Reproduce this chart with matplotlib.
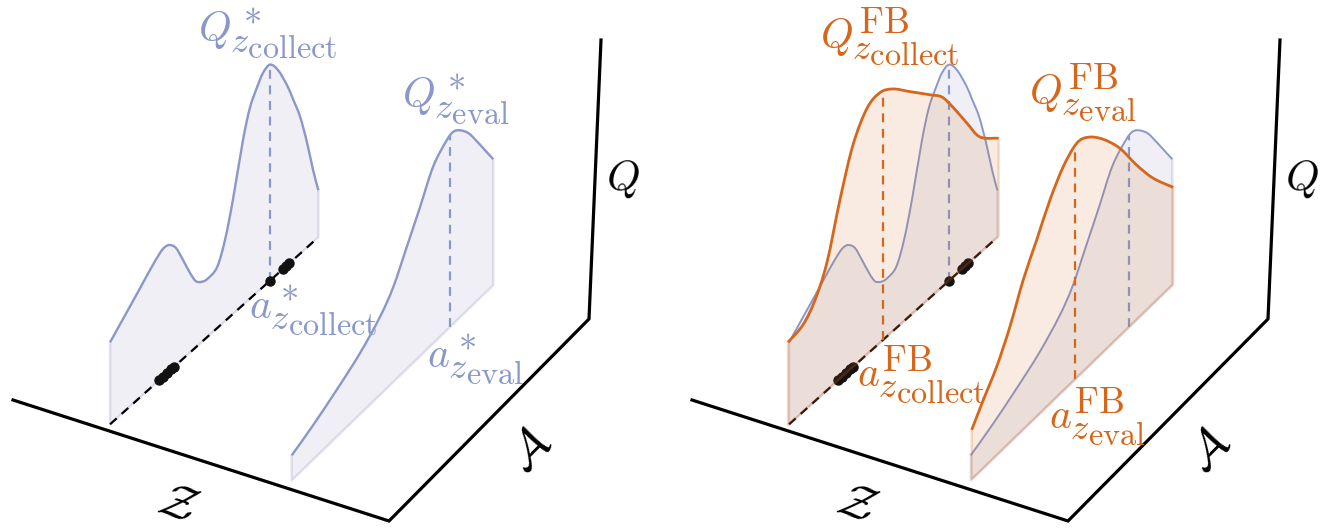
import numpy as np
import matplotlib
matplotlib.use("Agg")
import matplotlib.pyplot as plt
import matplotlib._mathtext as mathtext_internals
from matplotlib.path import Path
from matplotlib.patches import PathPatch

plt.rcParams['mathtext.fontset'] = 'cm'
# bigger script sizes, like LaTeX at \Huge
mathtext_internals.SHRINK_FACTOR = 0.88

# ---- data: Q as a function of the action a (along the A axis) ----
z_collect = 0.243
z_eval = 0.722

a_star_collect = [0.028, 0.077, 0.175, 0.225, 0.274, 0.299, 0.323, 0.353, 0.387, 0.422,
                  0.451, 0.481, 0.510, 0.555, 0.594, 0.633, 0.683, 0.717, 0.752, 0.781,
                  0.816, 0.855, 0.900, 0.929, 0.964, 0.998, 1.028, 1.054]
q_star_collect = [0.82, 0.91, 1.09, 1.185, 1.265, 1.28, 1.255, 1.17, 0.99, 0.795,
                  0.66, 0.60, 0.58, 0.61, 0.81, 1.14, 1.65, 1.91, 2.05, 2.14,
                  2.16, 2.035, 1.80, 1.61, 1.37, 1.05, 0.72, 0.47]

a_star_eval = [0.036, 0.143, 0.26, 0.375, 0.475, 0.541, 0.608, 0.674, 0.74, 0.807,
               0.84, 0.873, 0.915, 0.956, 0.997, 1.038]
q_star_eval = [0.25, 0.345, 0.47, 0.61, 0.78, 0.95, 1.22, 1.49, 1.77, 1.90,
               1.92, 1.87, 1.76, 1.60, 1.43, 1.26]

a_fb_collect = [0.023, 0.097, 0.156, 0.215, 0.279, 0.343, 0.412, 0.476, 0.540, 0.624,
                0.722, 0.781, 0.835, 0.904, 0.968, 1.060]
q_fb_collect = [0.83, 0.87, 1.01, 1.28, 1.79, 2.22, 2.46, 2.50, 2.42, 2.24,
                2.03, 1.90, 1.70, 1.415, 1.16, 0.98]

a_fb_eval = [0.041, 0.098, 0.165, 0.231, 0.297, 0.364, 0.430, 0.496, 0.563, 0.621,
             0.695, 0.778, 0.861, 0.944, 1.043]
q_fb_eval = [0.495, 0.68, 0.885, 1.157, 1.495, 1.765, 2.036, 2.24, 2.344, 2.292,
             2.127, 1.875, 1.546, 1.252, 0.969]

# argmax actions (a, Q)
star_collect_max = (0.816, 2.16)
star_eval_max = (0.823, 1.91)
fb_collect_max = (0.49, 2.50)
fb_eval_max = (0.554, 2.34)

# actions in the replay data at z_collect
a_data = [0.27, 0.29, 0.31, 0.33, 0.345, 0.816, 0.88, 0.895, 0.91]

# ---- layout ----
P00 = (13, 400)
P10 = (389, 521)
P11 = (589, 319)
P01 = (217, 224)
PX_PER_Q = 100
Q_TOP = 2.79
Q_LEAN = 12
SHIFT = 679

BLUE = '#8a97c9'
BLUE_FILL = '#8484b4'
ORANGE = '#d6661a'


def proj(z, a, q=0.0, shift=0.0):
    a = np.asarray(a, float)
    q = np.asarray(q, float)
    w00 = (1 - z) * (1 - a)
    w10 = z * (1 - a)
    w11 = z * a
    w01 = (1 - z) * a
    x = w00 * P00[0] + w10 * P10[0] + w11 * P11[0] + w01 * P01[0]
    y = w00 * P00[1] + w10 * P10[1] + w11 * P11[1] + w01 * P01[1]
    return x + shift, y - q * PX_PER_Q


def smooth(x, y):
    # smooth line through the points (catmull-rom as bezier pieces)
    pts = np.column_stack([x, y])
    n = len(pts)
    verts = [pts[0]]
    codes = [Path.MOVETO]
    for i in range(n - 1):
        p0 = pts[max(i - 1, 0)]
        p1 = pts[i]
        p2 = pts[i + 1]
        p3 = pts[min(i + 2, n - 1)]
        verts += [p1 + (p2 - p0) / 6, p2 - (p3 - p1) / 6, p2]
        codes += [Path.CURVE4] * 3
    return verts, codes


def draw_curve(ax, z, a, q, color, fill, shift, lw, alpha, zo):
    xc, yc = proj(z, a, q, shift)
    xb, yb = proj(z, a, 0, shift)
    verts, codes = smooth(xc, yc)
    fverts = verts + [(xb[-1], yb[-1]), (xb[0], yb[0]), (xc[0], yc[0])]
    fcodes = codes + [Path.LINETO, Path.LINETO, Path.CLOSEPOLY]
    ax.add_patch(PathPatch(Path(fverts, fcodes), facecolor=fill, alpha=alpha,
                           edgecolor='none', zorder=zo))
    ax.plot([xc[0], xb[0], xb[-1], xc[-1]], [yc[0], yb[0], yb[-1], yc[-1]],
            color=fill, alpha=0.22, lw=1.8, zorder=zo)
    ax.add_patch(PathPatch(Path(verts, codes), facecolor='none', edgecolor=color,
                           lw=lw, zorder=zo + 0.5))


def draw_drop(ax, z, amax, color, shift, zo):
    x0, y0 = proj(z, amax[0], 0, shift)
    x1, y1 = proj(z, amax[0], amax[1], shift)
    ax.plot([x0, x1], [y0, y1], color=color, ls='--', lw=1.6, dashes=(4, 3), zorder=zo)


def draw_axes(ax, shift):
    xa, ya = proj(1, [0, 1], 0, shift)
    x0, y0 = proj(0, 0, 0, shift)
    xs = [x0, xa[0], xa[1], xa[1] + Q_LEAN]
    ys = [y0, ya[0], ya[1], ya[1] - Q_TOP * PX_PER_Q]
    ax.plot(xs, ys, color='black', lw=2.3, solid_joinstyle='miter', zorder=1)
    ax.text((x0 + xa[0]) / 2 - 23, (y0 + ya[0]) / 2 + 43, r'$\mathcal{Z}$',
            fontsize=35, rotation=-18, ha='center', va='center')
    ax.text((xa[0] + xa[1]) / 2 + 41, (ya[0] + ya[1]) / 2 + 30, r'$\mathcal{A}$',
            fontsize=35, rotation=45, ha='center', va='center')
    ax.text(xa[1] + 34, ya[1] - 140, r'$Q$', fontsize=31, rotation=2,
            ha='center', va='center')


def draw_data(ax, shift, zo):
    xb, yb = proj(z_collect, [a_star_collect[0], a_star_collect[-1]], 0, shift)
    ax.plot(xb, yb, color='black', ls='--', lw=1.6, dashes=(4, 3), zorder=zo)
    xd, yd = proj(z_collect, a_data, 0, shift)
    ax.plot(xd, yd, 'o', color='#111111', ms=6.5, zorder=zo + 0.1)


fig = plt.figure(figsize=(13.2, 5.3), dpi=100)
ax = fig.add_axes([0, 0, 1, 1])
ax.set_xlim(0, 1320)
ax.set_ylim(530, 0)
ax.axis('off')

# left panel: optimal Q
draw_axes(ax, 0)
draw_curve(ax, z_collect, a_star_collect, q_star_collect, BLUE, BLUE_FILL, 0, 1.7, 0.13, 2)
draw_curve(ax, z_eval, a_star_eval, q_star_eval, BLUE, BLUE_FILL, 0, 1.7, 0.13, 2)
draw_drop(ax, z_collect, star_collect_max, BLUE, 0, 3)
draw_drop(ax, z_eval, star_eval_max, BLUE, 0, 3)
draw_data(ax, 0, 4)

fs = 30
ax.text(268, 34, r'$Q^*_{z_{\mathrm{collect}}}$', color=BLUE, fontsize=fs, ha='center', va='center')
ax.text(456, 100, r'$Q^*_{z_{\mathrm{eval}}}$', color=BLUE, fontsize=fs, ha='center', va='center')
ax.text(313, 311, r'$a^*_{z_{\mathrm{collect}}}$', color=BLUE, fontsize=fs, ha='center', va='center')
ax.text(475, 360, r'$a^*_{z_{\mathrm{eval}}}$', color=BLUE, fontsize=fs, ha='center', va='center')

# right panel: fitted Q overlaid on optimal Q
draw_axes(ax, SHIFT)
draw_curve(ax, z_collect, a_star_collect, q_star_collect, BLUE, BLUE_FILL, SHIFT, 1.4, 0.13, 2)
draw_curve(ax, z_eval, a_star_eval, q_star_eval, BLUE, BLUE_FILL, SHIFT, 1.4, 0.13, 2)
draw_drop(ax, z_collect, star_collect_max, BLUE, SHIFT, 3)
draw_drop(ax, z_eval, star_eval_max, BLUE, SHIFT, 3)
draw_data(ax, SHIFT, 4)
draw_curve(ax, z_collect, a_fb_collect, q_fb_collect, ORANGE, ORANGE, SHIFT, 2.0, 0.13, 5)
draw_curve(ax, z_eval, a_fb_eval, q_fb_eval, ORANGE, ORANGE, SHIFT, 2.0, 0.13, 5)
draw_drop(ax, z_collect, fb_collect_max, ORANGE, SHIFT, 6)
draw_drop(ax, z_eval, fb_eval_max, ORANGE, SHIFT, 6)

ax.text(890, 37, r'$Q^{\mathrm{FB}}_{z_{\mathrm{collect}}}$', color=ORANGE, fontsize=fs, ha='center', va='center')
ax.text(1083, 93, r'$Q^{\mathrm{FB}}_{z_{\mathrm{eval}}}$', color=ORANGE, fontsize=fs, ha='center', va='center')
ax.text(921, 375, r'$a^{\mathrm{FB}}_{z_{\mathrm{collect}}}$', color=ORANGE, fontsize=fs, ha='center', va='center', zorder=7)
ax.text(1097, 417, r'$a^{\mathrm{FB}}_{z_{\mathrm{eval}}}$', color=ORANGE, fontsize=fs, ha='center', va='center', zorder=7)

fig.savefig('out.png', dpi=100)
